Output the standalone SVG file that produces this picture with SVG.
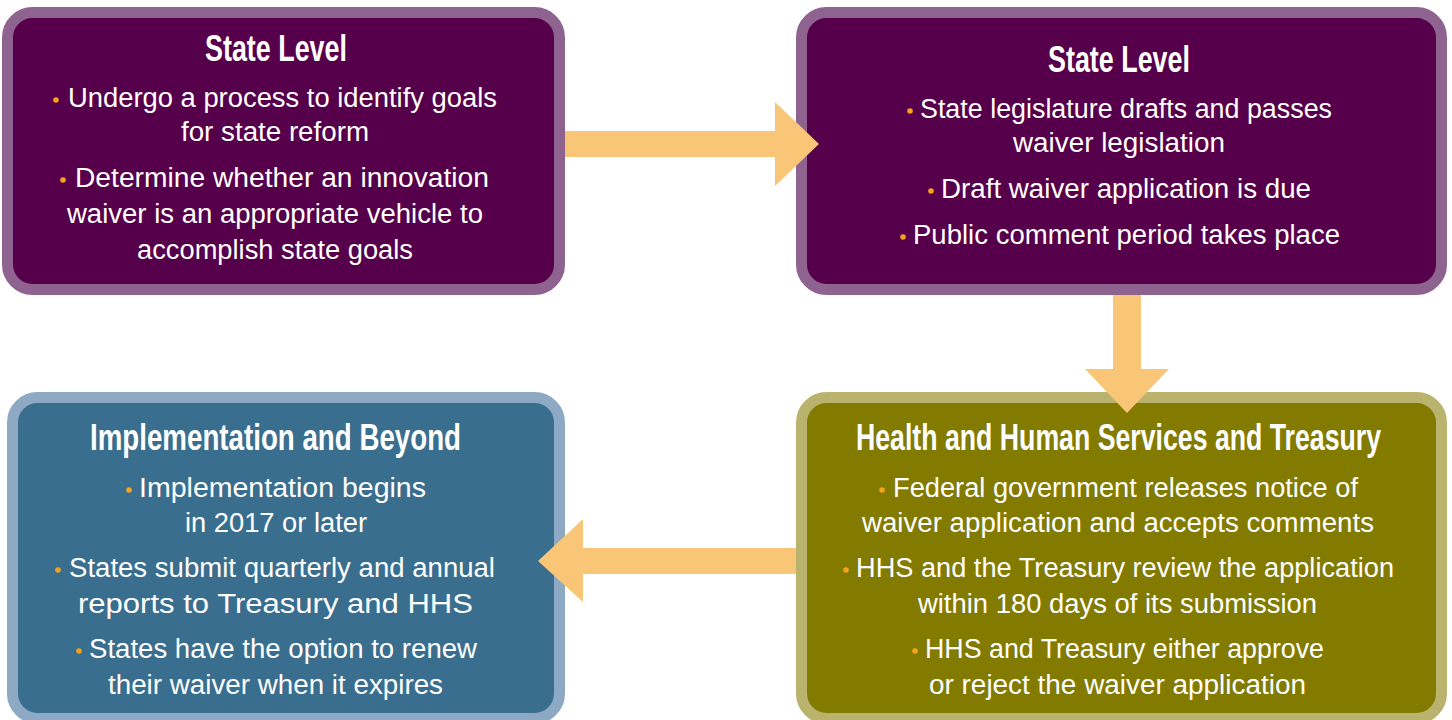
<svg xmlns="http://www.w3.org/2000/svg" width="1452" height="720" viewBox="0 0 1452 720">
<style>
.box{stroke-width:11}
.purple{fill:#56004B;stroke:#8E6390}
.blue{fill:#3A6E8F;stroke:#8DA9C3}
.olive{fill:#827B00;stroke:#BAB36D}
.title{font-family:"Liberation Sans Narrow","Liberation Sans",Arial,sans-serif;font-weight:bold;font-size:36px;fill:#ffffff}
.body{font-family:"Liberation Sans",Arial,sans-serif;font-size:27px;fill:#ffffff}
.bul{fill:#F7A21B}
.arrow{fill:#F9C677}
</style>
<rect width="1452" height="720" fill="#ffffff"/>
<g id="node-state-level-1">
<rect class="box purple" x="7.5" y="12.5" width="552" height="277" rx="25"/>
<text class="title" x="205" y="61" textLength="142" lengthAdjust="spacingAndGlyphs">State Level</text>
<circle class="bul" cx="56" cy="100" r="2.8"/>
<text class="body" x="68" y="107" textLength="429" lengthAdjust="spacingAndGlyphs">Undergo a process to identify goals</text>
<text class="body" x="181" y="141" textLength="188" lengthAdjust="spacingAndGlyphs">for state reform</text>
<circle class="bul" cx="63" cy="180" r="2.8"/>
<text class="body" x="75" y="187" textLength="414" lengthAdjust="spacingAndGlyphs">Determine whether an innovation</text>
<text class="body" x="67" y="223" textLength="416" lengthAdjust="spacingAndGlyphs">waiver is an appropriate vehicle to</text>
<text class="body" x="137" y="259" textLength="276" lengthAdjust="spacingAndGlyphs">accomplish state goals</text>
</g>
<g id="node-state-level-2">
<rect class="box purple" x="801.5" y="12.5" width="640" height="277" rx="25"/>
<text class="title" x="1048" y="72" textLength="142" lengthAdjust="spacingAndGlyphs">State Level</text>
<circle class="bul" cx="910" cy="111" r="2.8"/>
<text class="body" x="920" y="118" textLength="412" lengthAdjust="spacingAndGlyphs">State legislature drafts and passes</text>
<text class="body" x="1013" y="152" textLength="212" lengthAdjust="spacingAndGlyphs">waiver legislation</text>
<circle class="bul" cx="931" cy="191" r="2.8"/>
<text class="body" x="941" y="198" textLength="370" lengthAdjust="spacingAndGlyphs">Draft waiver application is due</text>
<circle class="bul" cx="903" cy="237" r="2.8"/>
<text class="body" x="913" y="244" textLength="427" lengthAdjust="spacingAndGlyphs">Public comment period takes place</text>
</g>
<g id="node-implementation">
<rect class="box blue" x="12.5" y="397.5" width="547" height="321" rx="25"/>
<text class="title" x="90" y="450" textLength="371" lengthAdjust="spacingAndGlyphs">Implementation and Beyond</text>
<circle class="bul" cx="129" cy="490" r="2.8"/>
<text class="body" x="139" y="497" textLength="287" lengthAdjust="spacingAndGlyphs">Implementation begins</text>
<text class="body" x="185" y="532" textLength="182" lengthAdjust="spacingAndGlyphs">in 2017 or later</text>
<circle class="bul" cx="58" cy="570" r="2.8"/>
<text class="body" x="69" y="577" textLength="426" lengthAdjust="spacingAndGlyphs">States submit quarterly and annual</text>
<text class="body" x="78" y="613" textLength="395" lengthAdjust="spacingAndGlyphs">reports to Treasury and HHS</text>
<circle class="bul" cx="79" cy="651" r="2.8"/>
<text class="body" x="89" y="658" textLength="388" lengthAdjust="spacingAndGlyphs">States have the option to renew</text>
<text class="body" x="108" y="694" textLength="335" lengthAdjust="spacingAndGlyphs">their waiver when it expires</text>
</g>
<g id="node-hhs-treasury">
<rect class="box olive" x="801.5" y="397.5" width="640" height="321" rx="25"/>
<text class="title" x="856" y="450" textLength="525" lengthAdjust="spacingAndGlyphs">Health and Human Services and Treasury</text>
<circle class="bul" cx="882" cy="490" r="2.8"/>
<text class="body" x="893" y="497" textLength="465" lengthAdjust="spacingAndGlyphs">Federal government releases notice of</text>
<text class="body" x="862" y="532" textLength="512" lengthAdjust="spacingAndGlyphs">waiver application and accepts comments</text>
<circle class="bul" cx="846" cy="570" r="2.8"/>
<text class="body" x="856" y="577" textLength="538" lengthAdjust="spacingAndGlyphs">HHS and the Treasury review the application</text>
<text class="body" x="918" y="613" textLength="399" lengthAdjust="spacingAndGlyphs">within 180 days of its submission</text>
<circle class="bul" cx="915" cy="651" r="2.8"/>
<text class="body" x="925" y="658" textLength="399" lengthAdjust="spacingAndGlyphs">HHS and Treasury either approve</text>
<text class="body" x="929" y="694" textLength="377" lengthAdjust="spacingAndGlyphs">or reject the waiver application</text>
</g>
<g id="connectors">
<polygon class="arrow" points="565,131 775,131 775,102 819,144 775,186 775,157 565,157"/>
<polygon class="arrow" points="1113,295 1113,369 1085,369 1127,413 1169,369 1141,369 1141,295"/>
<polygon class="arrow" points="796,548 583,548 583,519 538,561 583,602 583,574 796,574"/>
</g>
</svg>
